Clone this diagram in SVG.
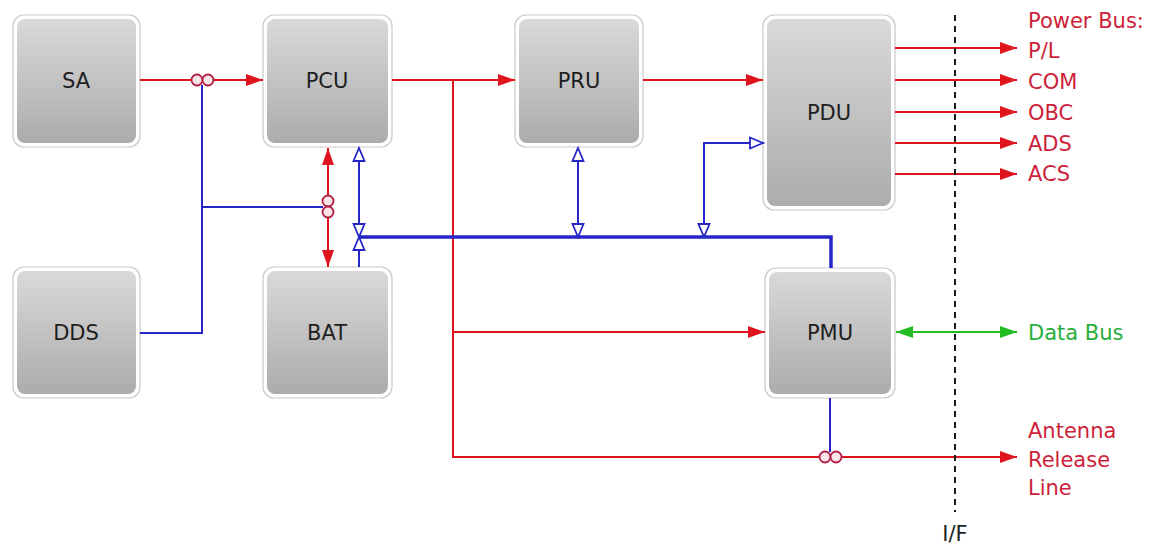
<svg xmlns="http://www.w3.org/2000/svg" width="1154" height="547" viewBox="0 0 1154 547">
<defs>
  <linearGradient id="boxg" x1="0" y1="0" x2="0" y2="1">
    <stop offset="0" stop-color="#d9d9d9"/>
    <stop offset="1" stop-color="#acacac"/>
  </linearGradient>
  <marker id="ra" markerUnits="userSpaceOnUse" markerWidth="18" markerHeight="14" refX="17" refY="7" orient="auto-start-reverse" viewBox="0 0 18 14">
    <path d="M0,1 L17,7 L0,13 z" fill="#e0141e"/>
  </marker>
  <marker id="ga" markerUnits="userSpaceOnUse" markerWidth="18" markerHeight="14" refX="17" refY="7" orient="auto-start-reverse" viewBox="0 0 18 14">
    <path d="M0,1 L17,7 L0,13 z" fill="#22bb22"/>
  </marker>
  <marker id="ba" markerUnits="userSpaceOnUse" markerWidth="16" markerHeight="14" refX="14" refY="7" orient="auto-start-reverse" viewBox="0 0 16 14">
    <path d="M1,1.5 L14,7 L1,12.5 z" fill="#ffffff" stroke="#2626c8" stroke-width="1.8"/>
  </marker>
</defs>
<style>
  .outer { fill: #ffffff; stroke: #c9c9c9; stroke-width: 1.2; }
  .inner { fill: url(#boxg); }
  .lbl { font-family: "DejaVu Sans", "Liberation Sans", sans-serif; font-size: 21px; fill: #1e1e1e; text-anchor: middle; }
  .rl { fill: none; stroke: #e0141e; stroke-width: 2; }
  .bl { fill: none; stroke: #2626c8; stroke-width: 2; }
  .bus { fill: none; stroke: #2626c8; stroke-width: 3.5; }
  .gl { fill: none; stroke: #22bb22; stroke-width: 2; }
  .loop { fill: #f7e4e6; stroke: #b01e46; stroke-width: 1.8; }
  .rt { font-family: "DejaVu Sans", "Liberation Sans", sans-serif; font-size: 21px; fill: #cc1f3a; }
  .gt { font-family: "DejaVu Sans", "Liberation Sans", sans-serif; font-size: 21px; fill: #2aae3c; }
  .kt { font-family: "DejaVu Sans", "Liberation Sans", sans-serif; font-size: 21px; fill: #1e1e1e; text-anchor: middle; }
</style>
<rect width="1154" height="547" fill="#ffffff"/>

<g id="SA">
  <rect class="outer" x="13" y="15" width="127" height="132" rx="11"/>
  <rect class="inner" x="17" y="19" width="119" height="124" rx="8"/>
  <text class="lbl" x="76" y="88">SA</text>
</g>
<g id="PCU">
  <rect class="outer" x="263" y="15" width="129" height="132" rx="11"/>
  <rect class="inner" x="267" y="19" width="121" height="124" rx="8"/>
  <text class="lbl" x="327" y="88">PCU</text>
</g>
<g id="PRU">
  <rect class="outer" x="515" y="15" width="128" height="132" rx="11"/>
  <rect class="inner" x="519" y="19" width="120" height="124" rx="8"/>
  <text class="lbl" x="579" y="88">PRU</text>
</g>
<g id="PDU">
  <rect class="outer" x="763" y="15" width="132" height="195" rx="11"/>
  <rect class="inner" x="767" y="19" width="124" height="187" rx="8"/>
  <text class="lbl" x="829" y="120">PDU</text>
</g>
<g id="DDS">
  <rect class="outer" x="13" y="267" width="127" height="131" rx="11"/>
  <rect class="inner" x="17" y="271" width="119" height="123" rx="8"/>
  <text class="lbl" x="76" y="340">DDS</text>
</g>
<g id="BAT">
  <rect class="outer" x="263" y="267" width="129" height="131" rx="11"/>
  <rect class="inner" x="267" y="271" width="121" height="123" rx="8"/>
  <text class="lbl" x="327" y="340">BAT</text>
</g>
<g id="PMU">
  <rect class="outer" x="765" y="268" width="130" height="130" rx="11"/>
  <rect class="inner" x="769" y="272" width="122" height="122" rx="8"/>
  <text class="lbl" x="830" y="340">PMU</text>
</g>

<g id="connectors">
  <path class="rl" d="M140,80 H263" marker-end="url(#ra)"/>
  <path class="rl" d="M392,80 H515" marker-end="url(#ra)"/>
  <path class="rl" d="M643,80 H763" marker-end="url(#ra)"/>
  <path class="rl" d="M453,80 V457 H1017" marker-end="url(#ra)"/>
  <path class="rl" d="M453,332 H765" marker-end="url(#ra)"/>
  <path class="rl" d="M328,148 V267" marker-start="url(#ra)" marker-end="url(#ra)"/>
  <path class="rl" d="M895,48 H1017" marker-end="url(#ra)"/>
  <path class="rl" d="M895,80 H1017" marker-end="url(#ra)"/>
  <path class="rl" d="M895,112 H1017" marker-end="url(#ra)"/>
  <path class="rl" d="M895,143 H1017" marker-end="url(#ra)"/>
  <path class="rl" d="M895,174 H1017" marker-end="url(#ra)"/>

  <path class="bl" d="M140,333 H202 V85"/>
  <path class="bl" d="M202,207 H323"/>
  <path class="bl" d="M359,148 V237" marker-start="url(#ba)" marker-end="url(#ba)"/>
  <path class="bl" d="M359,267 V237" marker-end="url(#ba)"/>
  <path class="bus" d="M359,237 H831 V268"/>
  <path class="bl" d="M578,148 V237" marker-start="url(#ba)" marker-end="url(#ba)"/>
  <path class="bl" d="M704,237 V143 H763" marker-start="url(#ba)" marker-end="url(#ba)"/>
  <path class="bl" d="M830,398 V452"/>

  <circle class="loop" cx="197" cy="80" r="5.5"/>
  <circle class="loop" cx="208" cy="80" r="5.5"/>
  <circle class="loop" cx="328" cy="201" r="5.5"/>
  <circle class="loop" cx="328" cy="212" r="5.5"/>
  <circle class="loop" cx="825" cy="457" r="5.5"/>
  <circle class="loop" cx="836" cy="457" r="5.5"/>

  <path class="gl" d="M896,332 H1017" marker-start="url(#ga)" marker-end="url(#ga)"/>

  <path d="M955,15 V512" fill="none" stroke="#1a1a1a" stroke-width="2" stroke-dasharray="6 5"/>
</g>

<g id="labels">
  <text class="rt" x="1028" y="28">Power Bus:</text>
  <text class="rt" x="1028" y="58">P/L</text>
  <text class="rt" x="1028" y="89">COM</text>
  <text class="rt" x="1028" y="120">OBC</text>
  <text class="rt" x="1028" y="151">ADS</text>
  <text class="rt" x="1028" y="181">ACS</text>
  <text class="gt" x="1028" y="340">Data Bus</text>
  <text class="rt" x="1028" y="438">Antenna</text>
  <text class="rt" x="1028" y="467">Release</text>
  <text class="rt" x="1028" y="495">Line</text>
  <text class="kt" x="955" y="541">I/F</text>
</g>
</svg>
